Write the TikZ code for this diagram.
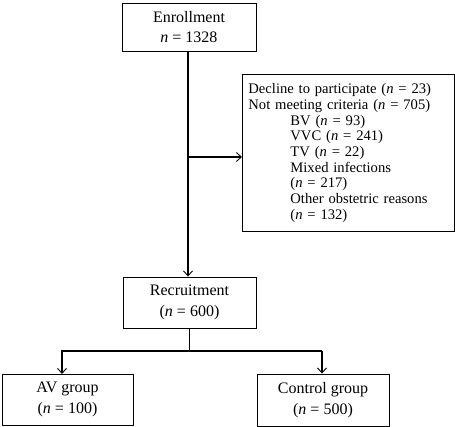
\documentclass[tikz,border=0pt]{standalone}
\usepackage{fontspec}
\setmainfont{Liberation Serif}
\usetikzlibrary{arrows.meta}
\newcommand{\nv}{\textit{n}~=~}
\newcommand{\ind}{\hspace*{42pt}}
\begin{document}
\begin{tikzpicture}[x=1pt,y=1pt,
  box/.style={draw,line width=0.9pt,inner sep=0pt,align=center,font=\fontsize{16}{20.5}\selectfont},
  link/.style={line width=1.2pt},
  arr/.style={line width=1.2pt,-{Straight Barb[length=5pt,width=9pt,line width=0.9pt]}}]
\useasboundingbox (0,0) rectangle (455,-427);
\node[box,minimum width=134pt,minimum height=48pt] (enroll) at (189,-27) {Enrollment\\\nv1328};
\node[box,anchor=north west,minimum width=212pt,minimum height=157pt,align=left,text width=200pt,inner xsep=6pt,font=\fontsize{14.6}{15.7}\selectfont] (excl) at (242,-74) {Decline to participate (\nv23)\\Not meeting criteria (\nv705)\\\ind BV (\nv93)\\\ind VVC (\nv241)\\\ind TV (\nv22)\\\ind Mixed infections\\\ind (\nv217)\\\ind Other obstetric reasons\\\ind (\nv132)};
\node[box,minimum width=133pt,minimum height=51pt] (recruit) at (189.5,-302.5) {Recruitment\\(\nv600)};
\node[box,minimum width=131pt,minimum height=51pt] (av) at (67.5,-399.5) {AV group\\(\nv100)};
\node[box,minimum width=132pt,minimum height=52pt] (ctrl) at (323,-400) {Control group\\(\nv500)};
\coordinate (j) at (188,-157);
\coordinate (b) at (189.5,-351);
\draw[arr] (enroll.south -| 188,0) -- (recruit.north -| 188,0);
\draw[arr] (j) -- (excl.west |- j);
\draw[link] (recruit.south) -- (b);
\draw[arr] (b) -| (62,-351) -- (62,-374);
\draw[link] (b) -- (322,-351);
\draw[arr] (322,-351) -- (ctrl.north -| 322,0);
\end{tikzpicture}
\end{document}
